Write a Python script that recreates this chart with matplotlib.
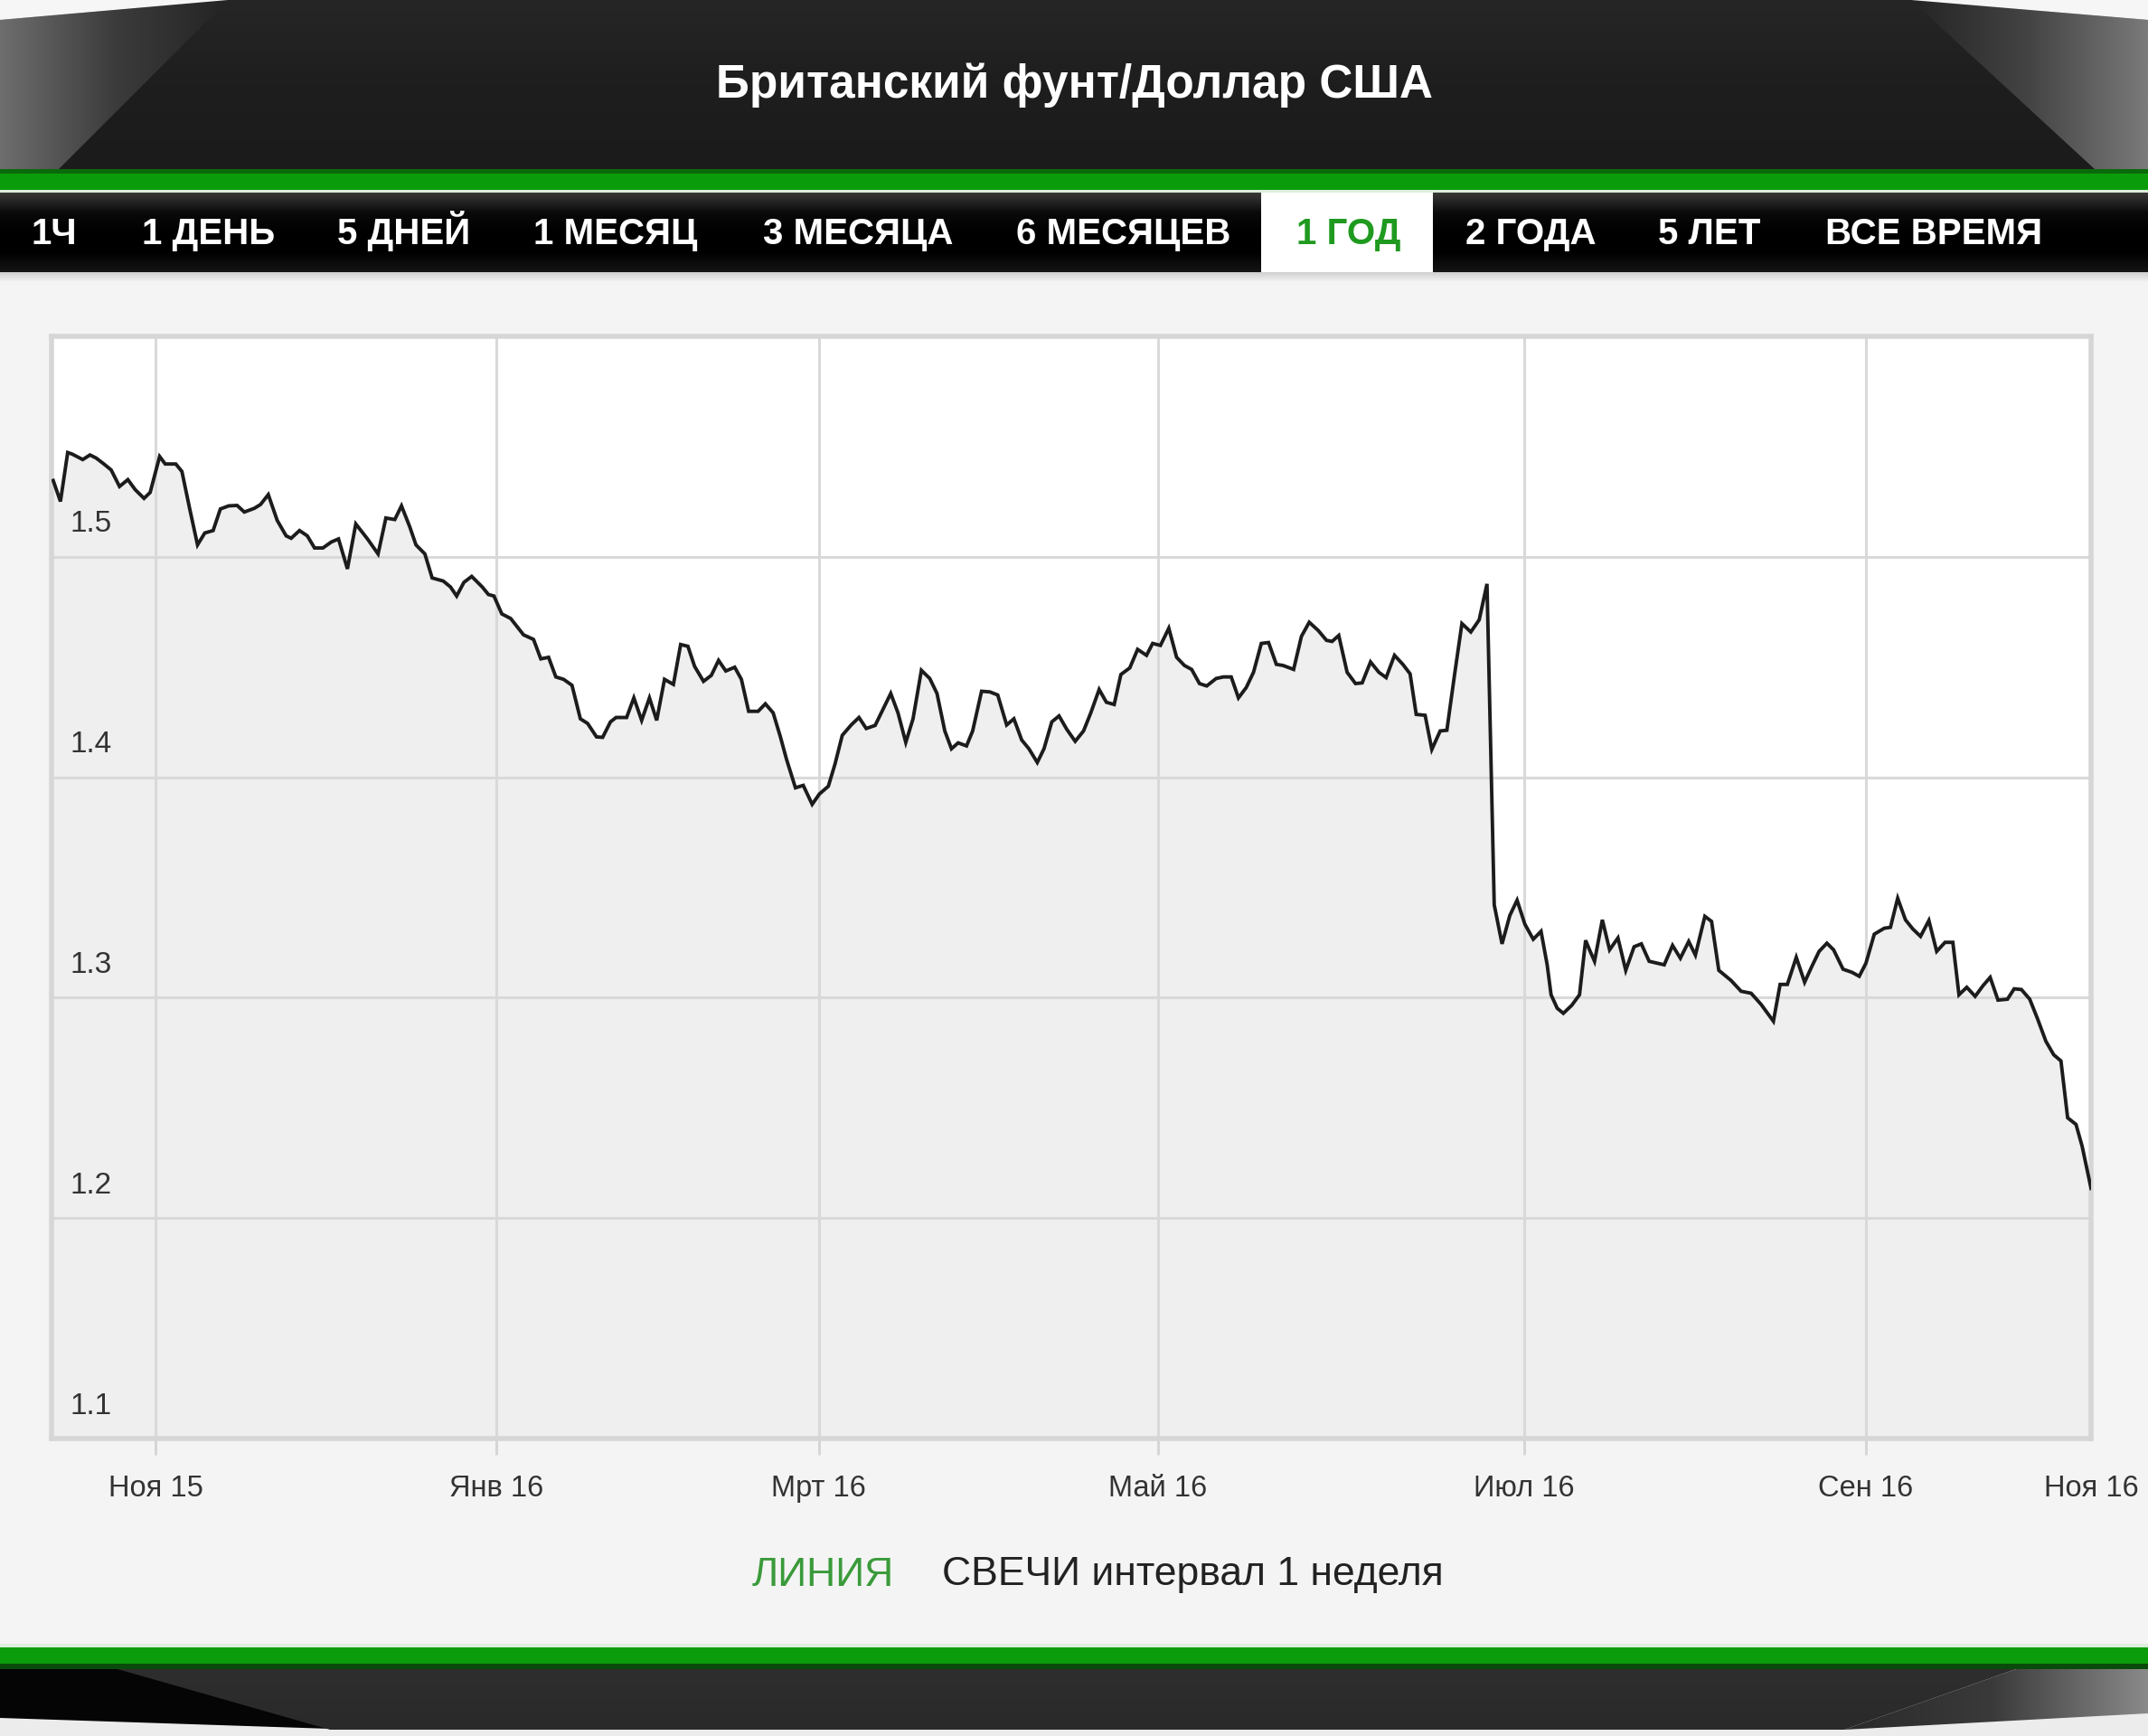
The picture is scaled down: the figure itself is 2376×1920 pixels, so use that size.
import numpy as np
import matplotlib
matplotlib.use("Agg")
import matplotlib.pyplot as plt
from matplotlib.patches import Polygon, Rectangle
from matplotlib.colors import LinearSegmentedColormap

plt.rcParams['font.family'] = ['Liberation Sans', 'DejaVu Sans']

# ---------------- data ----------------
title = "Британский фунт/Доллар США"
tabs = ["1Ч", "1 ДЕНЬ", "5 ДНЕЙ", "1 МЕСЯЦ", "3 МЕСЯЦА", "6 МЕСЯЦЕВ", "1 ГОД", "2 ГОДА", "5 ЛЕТ", "ВСЕ ВРЕМЯ"]
active_tab = "1 ГОД"

# days since 12 Oct 2015
days = [0.3, 1.6, 2.9, 3.7, 5.6, 6.9, 8.0, 9.4, 10.7, 12.2, 13.7, 15.0, 16.6, 17.7, 19.4, 20.4, 22.3, 23.4,
        24.8, 26.2, 27.5, 29.0, 30.3, 31.8, 33.3, 34.6, 36.4, 37.5, 38.9, 40.5, 42.1, 43.0, 44.5, 45.9, 47.2,
        48.7, 50.2, 51.5, 53.1, 54.6, 56.7, 58.6, 60.0, 61.6, 62.8, 64.3, 65.4, 67.0, 68.3, 70.3, 71.6, 72.7,
        74.0, 75.4,
        77.3, 78.4, 79.4, 80.8, 82.4, 84.7, 86.5, 87.8, 89.2, 90.5, 91.9, 93.4, 94.9, 96.2, 97.8, 98.9, 100.3,
        101.3, 103.2, 104.5, 105.9, 107.3, 108.6, 110.0, 111.6, 112.9, 114.2, 115.4, 117.0, 118.4, 119.7, 121.0,
        122.6, 123.8, 125.1, 126.8, 128.1, 129.5, 130.8, 131.9, 133.5, 134.9, 136.5, 137.8, 139.4, 140.6, 141.9,
        143.5, 144.9, 146.2, 147.8,
        150.6, 151.9, 153.3, 154.6, 156.1, 157.6, 158.9, 160.3, 161.5, 162.7, 164.2, 165.3, 166.9, 168.4, 169.8,
        171.4, 172.7, 174.1, 175.4, 176.9, 178.1, 179.5, 180.8, 182.2, 183.7, 185.2, 186.5, 188.0, 189.3, 190.7,
        191.9, 193.5, 194.9, 196.5, 197.6, 199.0, 200.5, 201.9, 203.3, 204.6, 206.0, 207.3, 209.0, 210.3, 211.7,
        213.0, 214.4, 215.7, 217.1, 218.4, 219.8, 221.0,
        222.9, 224.3, 225.7, 227.3, 228.8, 229.8, 231.0, 232.5, 234.0, 235.2, 236.7, 238.2, 239.5, 241.0, 242.5,
        243.8, 244.9, 246.5, 247.7, 249.2, 250.4, 251.8, 253.1, 254.7, 256.2, 257.6, 258.9, 260.3, 261.7, 263.0,
        264.4, 265.9, 267.3, 268.4, 269.1, 270.2, 271.3, 272.8, 274.2, 275.3, 276.0, 276.9, 278.3, 279.6, 281.1,
        282.5, 284.0, 285.3, 286.7, 288.2, 289.4, 290.9, 292.3, 293.8, 295.0, 296.7, 297.9, 299.2, 301.4, 303.2,
        305.0, 306.8, 309.0, 310.2, 311.5, 313.1, 314.6, 315.9, 317.2, 318.6, 319.8, 321.5, 323.1, 324.4, 325.6,
        327.1, 328.9, 330.0, 331.3, 332.7, 334.0, 335.4, 336.9, 338.3, 339.8, 341.2, 342.3, 343.7, 345.2, 346.6,
        347.9, 349.3, 351.0, 352.2, 353.5, 355.0, 356.4, 357.9, 359.3, 360.6, 361.8, 363.3, 364.4, 366.0]

prices = [1.5346, 1.5251, 1.5473, 1.5466, 1.5441, 1.5462, 1.5448, 1.5421, 1.5394, 1.5319, 1.5350, 1.5305, 1.5265,
          1.5292, 1.5455, 1.5421, 1.5421, 1.5387, 1.5217, 1.5054, 1.5108, 1.5119, 1.5217, 1.5231, 1.5233, 1.5203,
          1.5220, 1.5237, 1.5282, 1.5165, 1.5095, 1.5084, 1.5119, 1.5095, 1.5040, 1.5040, 1.5067, 1.5081, 1.4945,
          1.5149, 1.5081, 1.5013, 1.5176, 1.5169, 1.5231, 1.5135, 1.5054, 1.5013, 1.4904, 1.4890, 1.4863, 1.4822,
          1.4884, 1.4911,
          1.4863, 1.4829, 1.4822, 1.4741, 1.4720, 1.4646, 1.4625, 1.4537, 1.4544, 1.4455, 1.4444, 1.4417, 1.4265,
          1.4244, 1.4183, 1.4181, 1.4251, 1.4271, 1.4271, 1.4360, 1.4258, 1.4360, 1.4258, 1.4444, 1.4421, 1.4602,
          1.4594, 1.4503, 1.4435, 1.4462, 1.4530, 1.4482, 1.4499, 1.4444, 1.4299, 1.4299, 1.4333, 1.4292, 1.4183,
          1.4081, 1.3952, 1.3963, 1.3877, 1.3924, 1.3959, 1.4060, 1.4190, 1.4237, 1.4271, 1.4221, 1.4235,
          1.4380, 1.4292, 1.4158, 1.4265, 1.4485, 1.4448, 1.4380, 1.4210, 1.4129, 1.4156, 1.4142, 1.4210, 1.4390,
          1.4387, 1.4373, 1.4237, 1.4265, 1.4169, 1.4129, 1.4067, 1.4129, 1.4251, 1.4278, 1.4217, 1.4163, 1.4210,
          1.4292, 1.4398, 1.4340, 1.4330, 1.4466, 1.4496, 1.4580, 1.4553, 1.4607, 1.4598, 1.4676, 1.4544, 1.4507,
          1.4489, 1.4425, 1.4414, 1.4448, 1.4455, 1.4455, 1.4360, 1.4407, 1.4476, 1.4607, 1.4611, 1.4512, 1.4507,
          1.4489, 1.4639, 1.4703, 1.4666, 1.4621, 1.4616, 1.4643, 1.4476, 1.4425, 1.4428, 1.4523, 1.4476, 1.4452,
          1.4553, 1.4512, 1.4469, 1.4285, 1.4281, 1.4126, 1.4210, 1.4213, 1.4469, 1.4697, 1.4659, 1.4714, 1.4877,
          1.3421, 1.3244, 1.3373, 1.3442,
          1.3333, 1.3265, 1.3301, 1.3149, 1.3013, 1.2952, 1.2929, 1.2965, 1.3013, 1.3260, 1.3217, 1.3165, 1.3353,
          1.3217, 1.3271, 1.3124, 1.3231, 1.3244, 1.3165, 1.3156, 1.3149, 1.3237, 1.3179, 1.3255, 1.3193, 1.3369,
          1.3346, 1.3124, 1.3078, 1.3029, 1.3020, 1.2969, 1.2893, 1.3060, 1.3060, 1.3183, 1.3070, 1.3142, 1.3210,
          1.3247, 1.3217, 1.3129, 1.3115, 1.3097, 1.3156, 1.3288, 1.3315, 1.3319, 1.3451, 1.3353, 1.3312, 1.3278,
          1.3350, 1.3210, 1.3251, 1.3251, 1.3013, 1.3047, 1.3006, 1.3054, 1.3092, 1.2989, 1.2993, 1.3040, 1.3037,
          1.2993, 1.2904, 1.2802, 1.2741, 1.2713, 1.2455, 1.2425, 1.2326, 1.2135]

x_tick_pos = [18.7, 79.9, 137.7, 198.5, 264.3, 325.6, 366.0]
x_tick_labels = ["Ноя 15", "Янв 16", "Мрт 16", "Май 16", "Июл 16", "Сен 16", "Ноя 16"]
y_ticks = [1.1, 1.2, 1.3, 1.4, 1.5]
y_tick_labels = ["1.1", "1.2", "1.3", "1.4", "1.5"]
footer_active = "ЛИНИЯ"
footer_rest = "СВЕЧИ интервал 1 неделя"

# ---------------- figure ----------------
W, H = 2376, 1920
fig = plt.figure(figsize=(W / 100, H / 100), dpi=100)
fig.patch.set_facecolor('#f4f4f4')

# decorative frame drawn in a pixel-space background axes
bg = fig.add_axes([0, 0, 1, 1], zorder=0)
bg.set_xlim(0, W)
bg.set_ylim(H, 0)
bg.axis('off')


def grad_fill(ax, extent, colors, clip=None, horizontal=False, z=2):
    n = 256
    g = np.linspace(0, 1, n)
    arr = g.reshape(1, -1) if horizontal else g.reshape(-1, 1)
    cmap = LinearSegmentedColormap.from_list('g', colors)
    im = ax.imshow(arr, extent=extent, cmap=cmap, aspect='auto', zorder=z, interpolation='bilinear')
    if clip is not None:
        p = Polygon(clip, closed=True, facecolor='none', edgecolor='none', transform=ax.transData)
        ax.add_patch(p)
        im.set_clip_path(p)
    return im


# header
grad_fill(bg, (0, W, 188, 0), ['#262626', '#1e1e1e', '#1b1b1b'])
bg.add_patch(Polygon([(0, 0), (252, 0), (0, 22)], closed=True, facecolor='#f6f6f6', edgecolor='none', zorder=4))
bg.add_patch(Polygon([(W, 0), (W - 262, 0), (W, 22)], closed=True, facecolor='#f6f6f6', edgecolor='none', zorder=4))
grad_fill(bg, (0, 252, 188, 0), ['#6e6e6e', '#3c3c3c', '#242424'],
          clip=[(0, 22), (252, 0), (64, 188), (0, 188)], horizontal=True, z=3)
grad_fill(bg, (W - 262, W, 188, 0), ['#242424', '#444444', '#7a7a7a'],
          clip=[(W, 22), (W - 262, 0), (W - 58, 188), (W, 188)], horizontal=True, z=3)

# green stripe
bg.add_patch(Rectangle((0, 187), W, 5, facecolor='#0a6a0a', edgecolor='none', zorder=5))
bg.add_patch(Rectangle((0, 192), W, 18, facecolor='#0b9c0b', edgecolor='none', zorder=5))
bg.add_patch(Rectangle((0, 210), W, 3, facecolor='#dcefdc', edgecolor='none', zorder=5))

# tab bar
grad_fill(bg, (0, W, 301, 213), ['#3a3a3a', '#0a0a0a', '#000000', '#000000', '#151515'], z=5)
bg.add_patch(Rectangle((1395, 213), 190, 88, facecolor='white', edgecolor='none', zorder=6))
grad_fill(bg, (0, W, 312, 301), ['#cfcfcf', '#f4f4f4'], z=5)

tab_x = [60, 231, 447, 681, 949, 1243, 1492, 1693, 1891, 2139]
for t, xc in zip(tabs, tab_x):
    col = '#1f9a1f' if t == active_tab else 'white'
    fig.text(xc / W, 1 - 270 / H, t, color=col, fontsize=29, fontweight='bold',
             ha='center', va='baseline', zorder=10)

fig.text(0.5, 1 - 94 / H, title, color='white', fontsize=37, fontweight='bold',
         ha='center', va='center', zorder=10)

# bottom frame
bg.add_patch(Rectangle((0, 1818), W, 4, facecolor='#dcefdc', edgecolor='none', zorder=5))
bg.add_patch(Rectangle((0, 1822), W, 18, facecolor='#0b9c0b', edgecolor='none', zorder=5))
bg.add_patch(Rectangle((0, 1840), W, 6, facecolor='#0a4a0a', edgecolor='none', zorder=5))
bg.add_patch(Rectangle((0, 1846), W, 74, facecolor='#ececec', edgecolor='none', zorder=4))
bg.add_patch(Polygon([(0, 1846), (135, 1846), (365, 1912), (0, 1900)], closed=True,
                     facecolor='#050505', edgecolor='none', zorder=5))
grad_fill(bg, (130, W, 1913, 1846), ['#2e2e2e', '#2a2a2a'],
          clip=[(130, 1846), (2230, 1846), (2040, 1913), (365, 1913)], z=5)
grad_fill(bg, (2030, W, 1913, 1846), ['#2a2a2a', '#3a3a3a', '#8a8a8a'],
          clip=[(2230, 1846), (W, 1846), (W, 1895), (2040, 1913)], horizontal=True, z=5)

fig.text(832 / W, 1 - 1742 / H, footer_active, color='#3a9a3a', fontsize=32, ha='left', va='center')
fig.text(1042 / W, 1 - 1742 / H, footer_rest, color='#222222', fontsize=32, ha='left', va='center')

# ---------------- chart ----------------
L, R, T, B = 57, 2313, 372, 1591
ax = fig.add_axes([L / W, 1 - B / H, (R - L) / W, (B - T) / H], zorder=2)
ax.set_facecolor('white')
ax.set_xlim(0, 366)
ax.set_ylim(1.1, 1.6)

ax.fill_between(days, prices, 1.1, color='#efefef', linewidth=0, zorder=1)

grid_col = '#d9d9d9'
for xv in x_tick_pos[:-1]:
    ax.axvline(xv, color=grid_col, lw=2.2, zorder=2)
for yv in y_ticks[1:]:
    ax.axhline(yv, color=grid_col, lw=2.2, zorder=2)

ax.plot(days, prices, color='#1c1c1c', lw=2.8, zorder=3, solid_joinstyle='miter')

for sp in ax.spines.values():
    sp.set_color('#d6d6d6')
    sp.set_linewidth(4)

ax.set_xticks(x_tick_pos)
ax.set_xticklabels(x_tick_labels)
ax.tick_params(axis='x', direction='out', length=13, width=2.2, color='#d6d6d6',
               labelsize=23.5, labelcolor='#333333', pad=16)
ax.xaxis.get_major_ticks()[-1].tick1line.set_visible(False)
ax.set_yticks([])

for v, lab in zip(y_ticks, y_tick_labels):
    ax.annotate(lab, xy=(0, v), xycoords=('axes fraction', 'data'), xytext=(21, 36),
                textcoords='offset pixels', ha='left', va='center', fontsize=24,
                color='#333333', zorder=5)

fig.savefig('out.png', dpi=100, facecolor=fig.get_facecolor())
